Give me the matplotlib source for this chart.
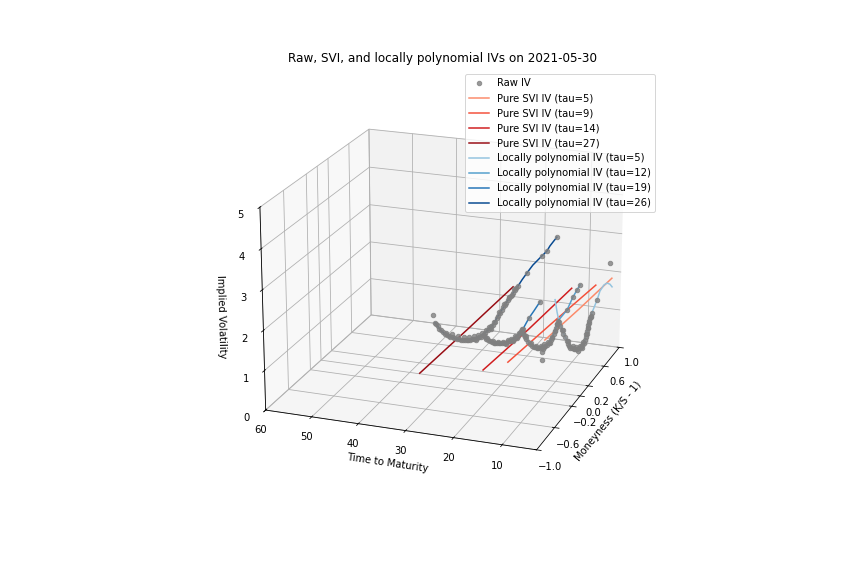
import numpy as np
import matplotlib.pyplot as plt

# raw implied vols, one list per expiry (tau in days), moneyness = K/S - 1
raw_m_26 = [-0.83, -0.79, -0.77, -0.74, -0.71, -0.68, -0.64, -0.60, -0.55, -0.52, -0.49, -0.44, -0.40, -0.35,
            -0.30, -0.27, -0.22, -0.18, -0.14, -0.11, -0.07, -0.03, 0.01, 0.04, 0.08, 0.12, 0.16, 0.21, 0.26,
            0.32, 0.37, 0.40, 0.43, 0.47, 0.52, 0.55, 0.59, 0.64, 0.67, 0.71, 0.74, 0.77, 0.81, 0.84, 0.87,
            0.90, 0.94, 0.97, 1.01, 1.23, 1.60, 1.72, 1.98,
            -0.57, -0.46, -0.33, -0.20, -0.09, 0.02, 0.10, 0.18, 0.28, 0.35, 0.45, 0.57, 0.69, 0.79, 0.92,
            0.06, 0.24, 0.38]
raw_iv_26 = [2.70, 2.46, 2.40, 2.31, 2.22, 2.14, 2.05, 1.95, 1.86, 1.80, 1.75, 1.68, 1.60, 1.52,
             1.45, 1.41, 1.34, 1.29, 1.24, 1.20, 1.16, 1.12, 1.08, 1.05, 1.02, 0.99, 0.96, 0.94, 0.93,
             0.93, 0.92, 0.94, 0.93, 0.96, 1.01, 1.03, 1.06, 1.09, 1.11, 1.13, 1.15, 1.18, 1.19, 1.21, 1.21,
             1.23, 1.26, 1.27, 1.28, 1.39, 1.44, 1.43, 1.54,
             1.95, 1.77, 1.57, 1.40, 1.25, 1.14, 1.07, 1.02, 0.99, 0.98, 1.00, 1.11, 1.18, 1.24, 1.31,
             1.00, 0.90, 0.89]
raw_m_19 = [-0.46, -0.43, -0.39, -0.35, -0.31, -0.27, -0.24, -0.20, -0.16, -0.13, -0.09, -0.05, -0.01,
            0.03, 0.07, 0.10, 0.14, 0.18, 0.23, 0.27, 0.32, 0.35, 0.39, 0.53, 0.79,
            -0.41, -0.29, -0.18, -0.07, 0.05, 0.12, 0.21, 0.30, 0.37, 0.16, 0.25, 0.01]
raw_iv_19 = [1.81, 1.74, 1.66, 1.58, 1.50, 1.43, 1.39, 1.34, 1.29, 1.26, 1.21, 1.16, 1.12,
             1.09, 1.06, 1.03, 1.01, 0.99, 0.97, 0.96, 0.96, 0.97, 0.98, 1.10, 1.22,
             1.74, 1.50, 1.35, 1.21, 1.11, 1.06, 1.02, 0.99, 1.02, 0.96, 0.93, 1.07]
raw_m_12 = [-0.36, -0.34, -0.31, -0.28, -0.24, -0.20, -0.15, -0.11, -0.08, -0.04, 0.00, 0.04, 0.08, 0.12,
            0.16, 0.20, 0.24, 0.29, 0.33, 0.36, 0.39, 0.41, 0.44, 0.46, 0.68, 0.82, 0.92, 1.00, 0.08, 0.09,
            -0.30, -0.18, -0.06, 0.06, 0.14, 0.22, 0.31, 0.38, 0.43, 0.10, 0.27]
raw_iv_12 = [1.90, 1.84, 1.75, 1.66, 1.54, 1.44, 1.32, 1.25, 1.20, 1.13, 1.08, 1.04, 1.01, 0.97,
             0.94, 0.91, 0.91, 0.92, 0.95, 0.99, 1.04, 1.09, 1.16, 1.22, 1.24, 1.41, 1.48, 1.53, 0.88, 0.67,
             1.76, 1.43, 1.20, 1.06, 1.00, 0.96, 0.97, 1.06, 1.18, 0.94, 0.88]
raw_m_5 = [-0.31, -0.28, -0.24, -0.20, -0.16, -0.12, -0.09, -0.05, -0.03, 0.01, 0.05, 0.09, 0.13, 0.18,
           0.23, 0.27, 0.31, 0.33, 0.35, 0.37, 0.38, 0.39, 0.40, 0.42, 0.44, 0.46, 0.49, 0.62, 0.94,
           -0.22, -0.10, 0.03, 0.11, 0.20, 0.29, 0.36, 0.16, 0.25, 0.43, 0.47, 0.41]
raw_iv_5 = [2.23, 2.10, 1.94, 1.80, 1.67, 1.53, 1.40, 1.30, 1.24, 1.18, 1.11, 1.05, 1.00, 0.96,
            0.93, 0.93, 0.94, 0.98, 1.04, 1.10, 1.17, 1.23, 1.29, 1.36, 1.42, 1.46, 1.49, 1.68, 2.28,
            1.91, 1.49, 1.20, 1.07, 0.99, 0.98, 1.12, 0.93, 0.89, 1.30, 1.41, 1.20]

# pure SVI fits
svi_taus = [5, 9, 14, 27]
svi_m = [[-0.63, 0.16, 1.00], [-1.00, -0.03, 1.06], [-1.00, -0.03, 1.02], [-1.00, -0.04, 1.00]]
svi_iv = [[2.17, 1.98, 1.81], [2.03, 1.79, 1.50], [1.76, 1.55, 1.39], [1.47, 1.36, 1.26]]

# locally polynomial fits
lp_m_5 = [-0.41, -0.36, -0.31, -0.16, 0.01, 0.13, 0.23, 0.31, 0.38, 0.44, 0.49, 0.62, 0.69, 0.79, 0.87,
          0.95, 1.01]
lp_iv_5 = [2.89, 2.53, 2.23, 1.67, 1.18, 1.00, 0.93, 0.94, 1.17, 1.42, 1.49, 1.68, 1.83, 1.87, 1.83,
           1.71, 1.57]
lp_m_12 = [-0.36, -0.31, -0.24, -0.15, -0.04, 0.08, 0.20, 0.29, 0.36, 0.41, 0.46, 0.55, 0.68, 0.82, 0.92, 1.00]
lp_iv_12 = [1.90, 1.75, 1.54, 1.32, 1.13, 1.01, 0.91, 0.92, 0.99, 1.09, 1.22, 1.23, 1.24, 1.41, 1.48, 1.53]
lp_m_19 = [-0.46, -0.39, -0.31, -0.20, -0.09, 0.03, 0.14, 0.23, 0.32, 0.39, 0.53, 0.65, 0.79]
lp_iv_19 = [1.81, 1.66, 1.50, 1.34, 1.21, 1.09, 1.01, 0.97, 0.96, 0.98, 1.10, 1.15, 1.22]
lp_m_26 = [-0.79, -0.74, -0.68, -0.60, -0.49, -0.35, -0.22, -0.07, 0.08, 0.21, 0.32, 0.43, 0.52, 0.59,
           0.71, 0.77, 0.87, 0.94, 1.01, 1.11, 1.23, 1.37, 1.50, 1.60, 1.72, 1.80, 1.90, 1.98]
lp_iv_26 = [2.46, 2.31, 2.14, 1.95, 1.75, 1.52, 1.34, 1.16, 1.02, 0.94, 0.93, 0.93, 1.01, 1.06,
            1.13, 1.18, 1.21, 1.26, 1.28, 1.34, 1.39, 1.44, 1.44, 1.44, 1.43, 1.49, 1.52, 1.54]

raw = [(26, raw_m_26, raw_iv_26), (19, raw_m_19, raw_iv_19), (12, raw_m_12, raw_iv_12), (5, raw_m_5, raw_iv_5)]
lp = [(5, lp_m_5, lp_iv_5), (12, lp_m_12, lp_iv_12), (19, lp_m_19, lp_iv_19), (26, lp_m_26, lp_iv_26)]

fig = plt.figure(figsize=(12, 8), dpi=72)
ax = fig.add_subplot(projection='3d')
ax.set_position([0.2551, 0.1174, 0.5133, 0.77])
ax.set_box_aspect(None, zoom=0.98)

rt = np.concatenate([[t] * len(m) for t, m, _ in raw])
rm = np.concatenate([m for _, m, _ in raw])
rv = np.concatenate([v for _, _, v in raw])
ax.scatter(rt, rm, rv, color='gray', alpha=0.8, depthshade=False, label='Raw IV')

reds = plt.get_cmap('Reds')(np.linspace(0.4, 0.9, 4))
for i, tau in enumerate(svi_taus):
    ax.plot([tau] * len(svi_m[i]), svi_m[i], svi_iv[i], color=reds[i],
            label=f'Pure SVI IV (tau={tau})')

blues = plt.get_cmap('Blues')(np.linspace(0.4, 0.9, 4))
for i, (tau, m, v) in enumerate(lp):
    ax.plot([tau] * len(m), m, v, color=blues[i], label=f'Locally polynomial IV (tau={tau})')

ax.set_xlim(60, 3)
ax.set_ylim(-1, 1)
ax.set_zlim(0, 5)
ax.set_yticks([-1, -0.6, -0.2, 0, 0.2, 0.6, 1])
ax.view_init(20, -70)
ax.zaxis.set_ticks_position('lower')
ax.zaxis.set_label_position('lower')

ax.set_xlabel('Time to Maturity')
ax.set_ylabel('Moneyness (K/S - 1)')
ax.set_zlabel('Implied Volatility')
ax.set_title('Raw, SVI, and locally polynomial IVs on 2021-05-30', pad=1.3)
ax.legend(loc='upper right', bbox_to_anchor=(0.7639, 0.88), bbox_transform=fig.transFigure)

fig.savefig('out.png', dpi=72)
